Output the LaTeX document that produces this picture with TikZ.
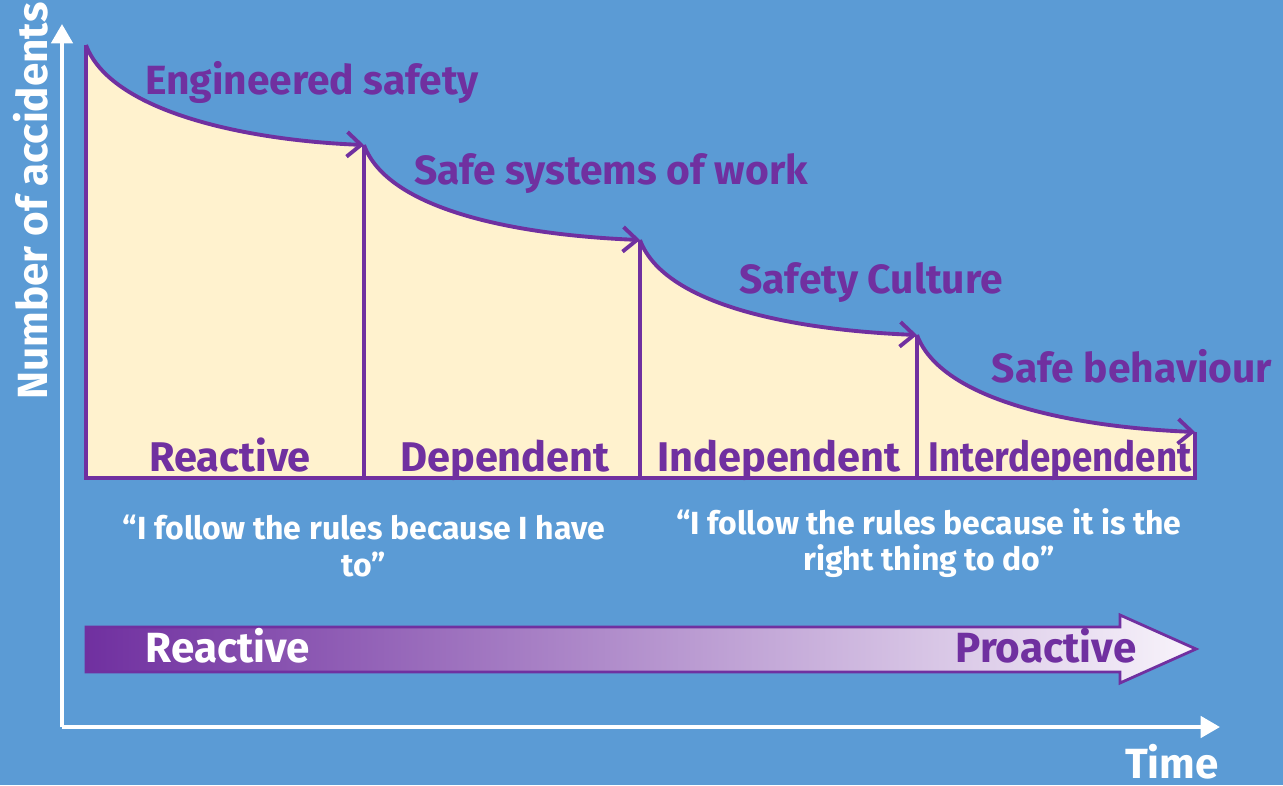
\documentclass[tikz,border=0pt]{standalone}
\usepackage{fontspec}
\setmainfont{Fira Sans}
\usepackage{tikz}
\usetikzlibrary{arrows.meta}
\usetikzlibrary{positioning}

\definecolor{bgblue}{RGB}{91,155,213}
\definecolor{safepurple}{RGB}{112,48,160}
\definecolor{cream}{RGB}{255,242,206}
\definecolor{paleend}{RGB}{248,244,251}

\tikzstyle{axis} = [draw=white,line width=1.2pt,-{Triangle[length=5.5pt,width=6pt]}]
\tikzstyle{stepcurve} = [draw=safepurple,line width=1.1pt,-{Straight Barb[length=4pt,width=7pt]}]
\tikzstyle{divider} = [draw=safepurple,line width=1pt]
\tikzstyle{phase} = [text=safepurple,anchor=base,inner sep=0pt,font=\fontsize{11.6}{13}\selectfont\bfseries]
\tikzstyle{stage} = [text=safepurple,anchor=base,inner sep=0pt,font=\fontsize{11.8}{13}\selectfont\bfseries]
\tikzstyle{saying} = [text=white,align=center,inner sep=0pt,font=\fontsize{9.1}{10.3}\selectfont\bfseries]
\tikzstyle{axislabel} = [text=white,anchor=base,inner sep=0pt,font=\fontsize{12}{13}\selectfont\bfseries]
\tikzstyle{trend} = [draw=safepurple,line width=0.8pt,left color=safepurple,right color=paleend]

\begin{document}
\begin{tikzpicture}[x=0.01cm,y=-0.01cm]

    \useasboundingbox (0,0) rectangle (1283,785);
    \fill[bgblue] (0,0) rectangle (1283,785);

    % axes
    \coordinate (origin) at (62,727);
    \coordinate (ytop) at (62,24);
    \coordinate (xend) at (1220,727);
    \draw[axis] (origin) -- (ytop);
    \draw[axis] (origin) -- (xend);
    \node[axislabel,rotate=90] (accidents) at (47,201) {Number of accidents};
    \node[axislabel] (time) at (1172,778) {Time};

    % points on the curve and their feet on the base line
    \foreach \n/\x/\y in {0/86/45, 1/364/145, 2/640/240, 3/917/335, 4/1195/432}{
        \coordinate (p\n) at (\x,\y);
        \coordinate (b\n) at (\x,478);
    }

    \foreach \i/\j in {0/1, 1/2, 2/3, 3/4}
        \fill[cream] (b\i) -- (p\i) .. controls +(24,65) and +(-124,-5) .. (p\j) -- (b\j) -- cycle;

    \draw[divider] (p0) -- (b0) -- (b4) -- (p4);
    \foreach \i in {1, 2, 3}
        \draw[divider] (p\i) -- (b\i);

    \foreach \i/\j in {0/1, 1/2, 2/3, 3/4}
        \draw[stepcurve] (p\i) .. controls +(24,65) and +(-124,-5) .. (p\j);

    % what each step adds
    \foreach \name/\x/\y/\txt in {eng/312/95/Engineered safety, sys/611/184/Safe systems of work,
                                  cult/871/293/Safety Culture, behav/1132/382/Safe behaviour}
        \node[phase] (\name) at (\x,\y) {\txt};

    \foreach \name/\x/\sx/\txt in {reactive/230/1/Reactive, dependent/505/1/Dependent,
                                   independent/779/1/Independent, interdep/1060/0.885/Interdependent}
        \node[stage,xscale=\sx] (\name) at (\x,471) {\txt};

    \node[saying] (sayL) at (364,546) {“I follow the rules because I have\\to”};
    \node[saying] (sayR) at (929,543) {“I follow the rules because it is the\\right thing to do”};

    % reactive -> proactive band
    \draw[trend] (86,627) -- (1120,627) -- (1120,615) -- (1196,649)
        -- (1120,683) -- (1120,672) -- (86,672) -- cycle;
    \node[axislabel] (bandL) at (228,662) {Reactive};
    \node[axislabel,text=safepurple] (bandR) at (1046,662) {Proactive};

\end{tikzpicture}
\end{document}
